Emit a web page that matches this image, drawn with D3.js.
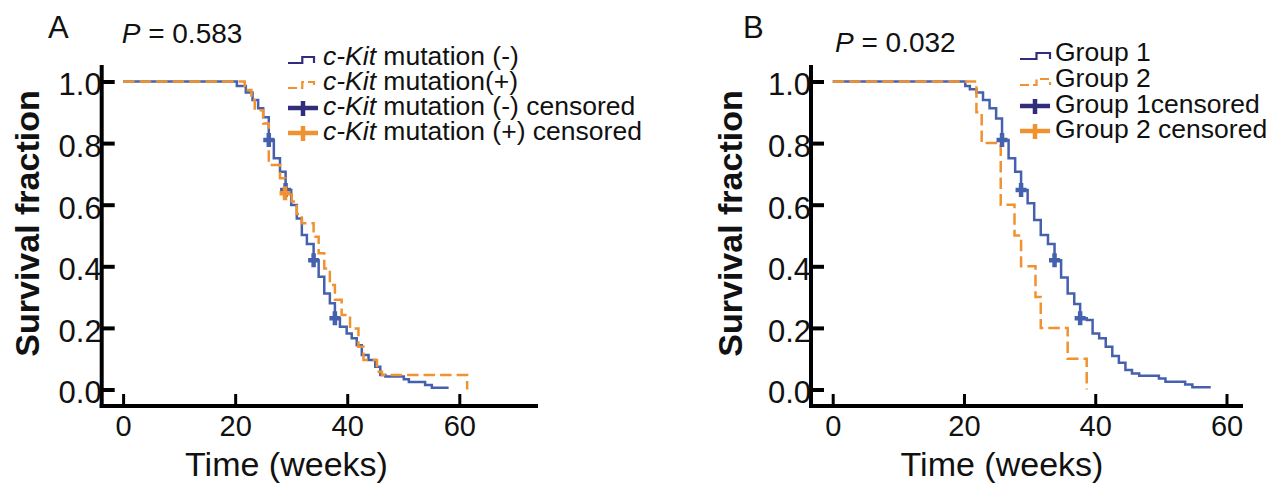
<!DOCTYPE html>
<html lang="en">
<head>
<meta charset="utf-8">
<title>Survival curves</title>
<script src="https://d3js.org/d3.v7.min.js"></script>
<style>
    body { margin: 0; background: #fff; }
    svg text { font-family: "Liberation Sans", Arial, Helvetica, sans-serif; fill: #111; }
</style>
</head>
<body>
<div id="chart"></div>
<script>
// DATA ----------------------------------------------------
const weekTicks = [0, 20, 40, 60];
const survTicks = [0, 0.2, 0.4, 0.6, 0.8, 1.0];

// panel A : c-Kit mutation (-) / (+)
const kitNegTime = [20.3, 21.9, 23.1, 24.1, 25.0, 26.0, 26.9, 28.0, 29.0, 30.0, 31.0, 31.9, 32.8, 34.0, 34.9, 35.9, 36.9, 37.8, 38.7, 39.9, 40.8, 41.7, 42.6, 43.8, 45.0, 45.9, 46.8, 50.1, 51.0, 53.9, 55.1, 58.1];
const kitNegSurv = [0.985, 0.964, 0.940, 0.913, 0.884, 0.810, 0.751, 0.707, 0.648, 0.599, 0.555, 0.502, 0.472, 0.420, 0.366, 0.312, 0.280, 0.231, 0.204, 0.182, 0.166, 0.144, 0.112, 0.096, 0.074, 0.047, 0.042, 0.033, 0.024, 0.015, 0.006, 0.006];
const kitPosTime = [21.7, 22.9, 23.5, 25.0, 26.0, 28.0, 28.9, 30.1, 31.0, 31.9, 34.0, 34.9, 35.9, 36.9, 37.8, 39.0, 40.5, 42.0, 42.9, 45.3, 46.2, 61.4];
const kitPosSurv = [0.972, 0.940, 0.907, 0.864, 0.729, 0.686, 0.637, 0.610, 0.570, 0.540, 0.496, 0.442, 0.393, 0.339, 0.291, 0.242, 0.198, 0.139, 0.096, 0.058, 0.047, 0];
const kitNegCensTime = [26.0, 29.0, 34.0, 37.8];
const kitNegCensSurv = [0.81, 0.648, 0.42, 0.231];
const kitPosCensTime = [28.9];
const kitPosCensSurv = [0.637];

// panel B : Group 1 / Group 2
const group1Time = [20.2, 20.9, 21.9, 22.9, 23.9, 24.9, 25.8, 26.8, 27.8, 28.7, 29.7, 30.7, 31.7, 32.8, 33.8, 34.8, 35.8, 36.8, 37.7, 38.7, 39.6, 40.6, 41.6, 42.6, 43.6, 44.6, 45.6, 46.7, 49.7, 50.7, 53.7, 54.8, 57.6];
const group1Surv = [0.985, 0.975, 0.964, 0.940, 0.913, 0.880, 0.810, 0.751, 0.707, 0.648, 0.605, 0.550, 0.502, 0.472, 0.420, 0.364, 0.312, 0.278, 0.231, 0.226, 0.182, 0.166, 0.139, 0.109, 0.087, 0.063, 0.052, 0.045, 0.036, 0.025, 0.016, 0.007, 0.007];
const group2Time = [21.9, 22.7, 25.6, 27.7, 28.7, 30.9, 31.7, 35.8, 38.7];
const group2Surv = [0.9, 0.8, 0.6, 0.5, 0.4, 0.3, 0.2, 0.1, 0];
const group1CensTime = [25.8, 28.7, 33.8, 37.7];
const group1CensSurv = [0.81, 0.648, 0.42, 0.231];

const kitPrefix = "c-Kit";
const kitLegend = ["mutation (-)", "mutation(+)", "mutation (-) censored", "mutation (+) censored"];
const groupLegend = ["Group 1", "Group 2", "Group 1censored", "Group 2 censored"];

// CHART ---------------------------------------------------
const svg = d3.select("#chart").append("svg")
    .attr("width", 1274)
    .attr("height", 487);

const blue = "#4560ad", orange = "#f0922f", navy = "#302e7c";

function stepPoints(times, surv) {
    return [[0, 1]].concat(times.map((t, i) => [t, surv[i]]));
}

function drawPanel(cfg) {
    const g = svg.append("g");
    const x = d3.scaleLinear().domain([0, 60]).range(cfg.xRange);
    const y = d3.scaleLinear().domain([0, 1]).range([389.5, 81.5]);
    const line = d3.line()
        .x(d => x(d[0]))
        .y(d => y(d[1]))
        .curve(d3.curveStepAfter);

    // axis lines
    g.append("line")
        .attr("x1", cfg.axisX).attr("x2", cfg.axisX)
        .attr("y1", 65).attr("y2", 408)
        .attr("stroke", "#000").attr("stroke-width", 4);
    g.append("line")
        .attr("x1", cfg.axisX - 2).attr("x2", cfg.axisEnd)
        .attr("y1", 406).attr("y2", 406)
        .attr("stroke", "#000").attr("stroke-width", 4);

    const yAx = g.append("g")
        .attr("transform", `translate(${cfg.axisX},0)`)
        .call(d3.axisLeft(y).tickValues(survTicks).tickFormat(d3.format(".1f"))
            .tickSizeInner(-13).tickSizeOuter(0).tickPadding(0));
    yAx.select(".domain").remove();
    yAx.attr("font-size", null).attr("font-family", null);
    yAx.selectAll("line").attr("stroke", "#000").attr("stroke-width", 4);
    yAx.selectAll("text").attr("font-size", 31).attr("dy", "0.43em");

    const xAx = g.append("g")
        .attr("transform", "translate(0,406)")
        .call(d3.axisBottom(x).tickValues(weekTicks)
            .tickSizeInner(-12).tickSizeOuter(0).tickPadding(9));
    xAx.select(".domain").remove();
    xAx.attr("font-size", null).attr("font-family", null);
    xAx.selectAll("line").attr("stroke", "#000").attr("stroke-width", 3);
    xAx.selectAll("text").attr("font-size", 29);

    // curves
    g.append("path")
        .attr("d", line(stepPoints(cfg.s1Time, cfg.s1Surv)))
        .attr("fill", "none").attr("stroke", blue).attr("stroke-width", 2.5);
    g.append("path")
        .attr("d", line(stepPoints(cfg.s2Time, cfg.s2Surv)))
        .attr("fill", "none").attr("stroke", orange).attr("stroke-width", 2.5)
        .attr("stroke-dasharray", "11.5,5");

    // censored marks
    const cross = (cx, cy) => `M${cx - 5.5},${cy}H${cx + 5.5}M${cx},${cy - 7}V${cy + 7}`;
    cfg.cens.forEach(c => {
        g.selectAll(null)
            .data(c.time.map((t, i) => [t, c.surv[i]]))
            .join("path")
            .attr("d", d => cross(x(d[0]), y(d[1])))
            .attr("fill", "none").attr("stroke", c.color).attr("stroke-width", 4.5);
    });

    // titles
    g.append("text").attr("x", cfg.letterX).attr("y", 38)
        .attr("font-size", 31).text(cfg.letter);
    const p = g.append("text").attr("x", cfg.pX).attr("y", cfg.pY).attr("font-size", 28);
    p.append("tspan").attr("font-style", "italic").text("P");
    p.append("tspan").text(" = " + cfg.pValue);

    g.append("text")
        .attr("transform", `translate(${cfg.yLabelX},223.5) rotate(-90)`)
        .attr("text-anchor", "middle").attr("font-size", 34).attr("font-weight", "bold")
        .text("Survival fraction");
    g.append("text")
        .attr("x", cfg.xLabelX).attr("y", 476)
        .attr("text-anchor", "middle").attr("font-size", 34)
        .text("Time (weeks)");

    // legend
    const kinds = ["stepBlue", "stepOrange", "censBlue", "censOrange"];
    cfg.legend.forEach((lab, i) => {
        const b = cfg.legendBase[i], gx = cfg.legendX, w = cfg.glyphW;
        const kind = kinds[i];
        if (kind.startsWith("step")) {
            g.append("path")
                .attr("d", `M${gx},${b - 2}H${gx + w * 0.55}V${b - 8}H${gx + w}V${b - 2}`)
                .attr("fill", "none")
                .attr("stroke", kind === "stepBlue" ? navy : orange)
                .attr("stroke-width", 2.2)
                .attr("stroke-dasharray", kind === "stepBlue" ? null : "9,4");
        } else {
            g.append("path")
                .attr("d", `M${gx},${b - 7}H${gx + 30}M${gx + 15},${b - 14}V${b + 1}`)
                .attr("fill", "none")
                .attr("stroke", kind === "censBlue" ? navy : orange)
                .attr("stroke-width", 4.5);
        }
        const t = g.append("text").attr("x", cfg.textX).attr("y", b).attr("font-size", 26.5);
        if (cfg.prefix) {
            t.append("tspan").attr("font-style", "italic").text(cfg.prefix);
            t.append("tspan").text(" " + lab);
        } else {
            t.text(lab);
        }
    });
}

drawPanel({
    xRange: [123.1, 459.3], axisX: 101.7, axisEnd: 538,
    letter: "A", letterX: 48, pX: 121.7, pY: 43.3, pValue: "0.583",
    yLabelX: 38.5, xLabelX: 286.5,
    s1Time: kitNegTime, s1Surv: kitNegSurv,
    s2Time: kitPosTime, s2Surv: kitPosSurv,
    cens: [{time: kitNegCensTime, surv: kitNegCensSurv, color: blue},
           {time: kitPosCensTime, surv: kitPosCensSurv, color: orange}],
    legend: kitLegend, prefix: kitPrefix,
    legendX: 288, glyphW: 26, textX: 323, legendBase: [65, 90, 115, 140]
});

drawPanel({
    xRange: [832.7, 1226.5], axisX: 811, axisEnd: 1243,
    letter: "B", letterX: 743, pX: 835, pY: 51.7, pValue: "0.032",
    yLabelX: 742, xLabelX: 1002,
    s1Time: group1Time, s1Surv: group1Surv,
    s2Time: group2Time, s2Surv: group2Surv,
    cens: [{time: group1CensTime, surv: group1CensSurv, color: blue}],
    legend: groupLegend, prefix: null,
    legendX: 1020, glyphW: 30, textX: 1055, legendBase: [61, 87, 113, 138]
});
</script>
</body>
</html>
